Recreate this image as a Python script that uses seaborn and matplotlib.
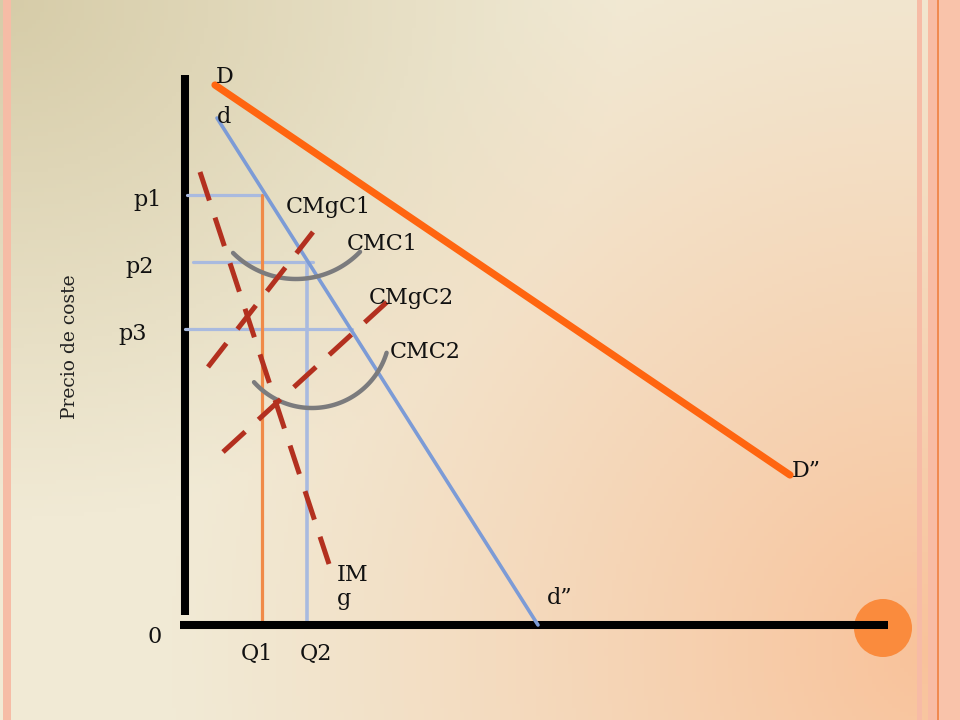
import numpy as np
import seaborn as sns
from matplotlib import pyplot as plt
from matplotlib.patches import Circle

# Diagram data (quantity, price) with the origin at the axis corner
demand_D = ([30, 605], [540, 150])          # D -> D"
demand_d = ([32, 353], [507, 0])            # d -> d"
img_line = ([15, 144], [453, 61])           # IMg
cmgc1 = ([23, 128], [258, 393])             # CMgC1
cmgc2 = ([38, 202], [173, 323])             # CMgC2

prices = {'p1': 430, 'p2': 363, 'p3': 296}
quantities = {'Q1': 77, 'Q2': 122}

# average cost curves as circular arcs: centre, radius, start/end angle (deg)
cmc1_arc = (111, 435, 89, -135, -44)
cmc2_arc = (127, 295, 78, -138, -17)

sns.set_theme(style="white")
plt.rcParams['font.family'] = ['DejaVu Serif']

fig = plt.figure(figsize=(9.6, 7.2), dpi=100)
ax = fig.add_axes([0, 0, 1, 1])
ax.axis('off')

# slide background: tan corner top-left, cream body, peach glow bottom-right
px, py = np.meshgrid(np.arange(0, 960, 4), np.arange(0, 720, 4))
tan = np.array([214, 204, 168]) / 255
cream = np.array([241, 234, 213]) / 255
peach = np.array([249, 194, 154]) / 255
t = np.clip(np.hypot(px, py * 1.2) / 620, 0, 1)[..., None]
base = tan * (1 - t) + cream * t
w = np.clip(1 - np.hypot(px - 930, py - 650) / 760, 0, 1)[..., None] ** 1.15
img = base * (1 - w) + peach * w
ax.imshow(img, extent=(-185, 775, -95, 625), origin='upper', aspect='auto', zorder=0)
ax.set_xlim(-185, 775)
ax.set_ylim(-95, 625)

# border stripes
for x0, x1, c in [(-182, -174, '#F6BCA6'), (732, 737, '#F7BBA6'), (743, 752, '#F8BCA4'),
                  (752, 753.5, '#F08A50'), (753.5, 775, '#F9C3AA')]:
    ax.axvspan(x0, x1, color=c, zorder=1, lw=0)

# axes
ax.plot([0, 0], [10, 550], color='black', lw=5.8, solid_capstyle='butt', zorder=3)
ax.plot([-5, 703], [0, 0], color='black', lw=5.8, solid_capstyle='butt', zorder=4)
ax.add_patch(Circle((698, -3), 29, color='#FA8B3D', zorder=2, lw=0))

# price / quantity guide lines
kw = dict(ax=ax, estimator=None, sort=False, zorder=3)
sns.lineplot(x=[2, quantities['Q1']], y=[prices['p1']] * 2, color='#A9BADF', lw=2.3, **kw)
sns.lineplot(x=[8, 128], y=[prices['p2']] * 2, color='#A9BADF', lw=2.3, **kw)
sns.lineplot(x=[0, 167], y=[prices['p3']] * 2, color='#A9BADF', lw=2.3, **kw)
sns.lineplot(x=[quantities['Q1']] * 2, y=[0, prices['p1']], color='#F08A48', lw=2.3, **kw)
sns.lineplot(x=[quantities['Q2']] * 2, y=[0, prices['p2']], color='#A9BADF', lw=2.6, **kw)

# demand curves
kw['zorder'] = 4
sns.lineplot(x=demand_D[0], y=demand_D[1], color='#FF6510', lw=5.2, **kw)
sns.lineplot(x=demand_d[0], y=demand_d[1], color='#7C9BD6', lw=2.6, **kw)

# average cost arcs
for cx, cy, r, a0, a1 in [cmc1_arc, cmc2_arc]:
    ang = np.radians(np.linspace(a0, a1, 80))
    ax.plot(cx + r * np.cos(ang), cy + r * np.sin(ang), color='#7B7B7D', lw=3.2, zorder=4)

# dashed marginal curves
kw['zorder'] = 5
for xs, ys in [img_line, cmgc1, cmgc2]:
    sns.lineplot(x=xs, y=ys, color='#B3301F', lw=3.6, linestyle=(0, (6, 3.6)), **kw)

# labels
fs = 16
labels = [('D', 40, 548), ('d', 39, 508), ('CMgC1', 143, 418), ('CMC1', 197, 381),
          ('CMgC2', 226, 327), ('CMC2', 240, 273), ('D\u201d', 621, 154),
          ('d\u201d', 375, 27), ('0', -30, -12), ('Q1', 72, -29), ('Q2', 131, -29)]
for txt, x, y in labels:
    ax.text(x, y, txt, fontsize=fs, ha='center', va='center', color='#111111', zorder=6)
for k, x in zip(prices, [-37, -45, -52]):
    ax.text(x, prices[k] - 5, k, fontsize=fs, ha='center', va='center', color='#111111', zorder=6)
ax.text(152, 38, 'IM\ng', fontsize=fs, ha='left', va='center', linespacing=1.1,
        color='#111111', zorder=6)
ax.text(-115, 278, 'Precio de coste', fontsize=13.5, rotation=90, ha='center', va='center',
        color='#222222', zorder=6)

plt.savefig('out.png', dpi=100)
